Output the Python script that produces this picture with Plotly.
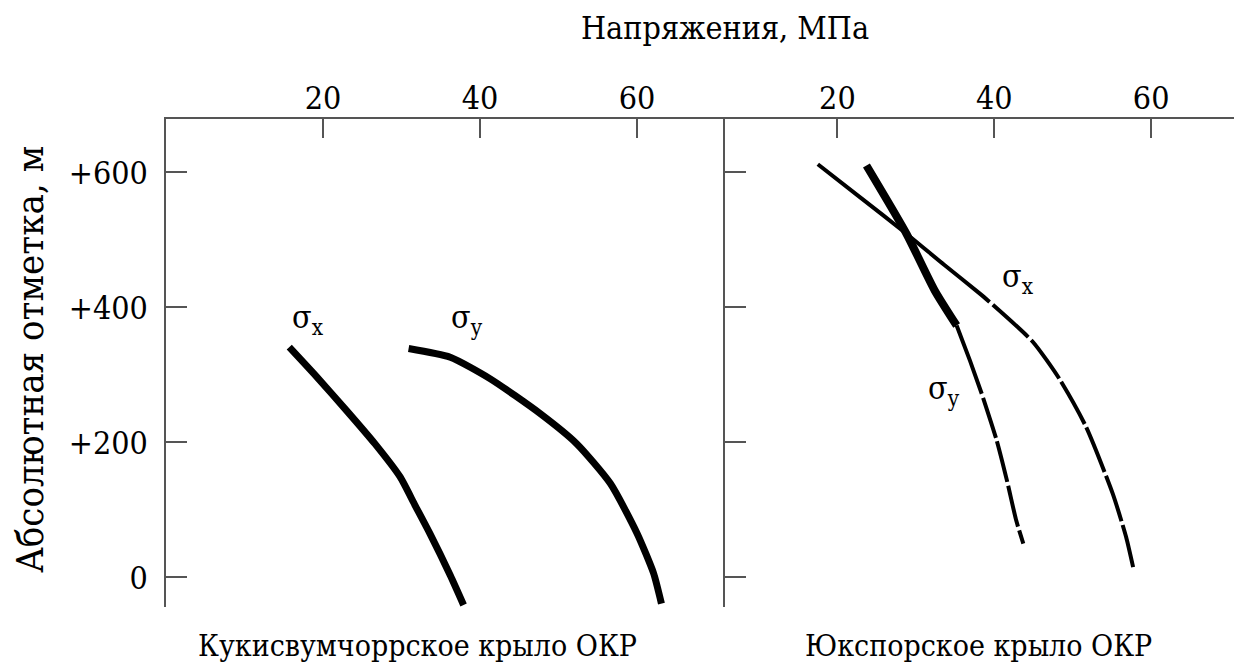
import plotly.graph_objects as go

# ---- data ----
# Left panel: Кукисвумчоррское крыло ОКР
left_sx_x = [15.7, 19.2, 23.0, 26.6, 29.8, 31.7, 33.6, 36.2, 37.9]
left_sx_y = [341, 297, 247, 198, 149, 107, 65, 3, -41]
left_sy_x = [30.9, 36.2, 41.3, 47.6, 52.3, 56.6, 60.0, 62.1, 63.1]
left_sy_y = [339, 326, 294, 243, 198, 139, 65, 6, -39]

# Right panel: Юкспорское крыло ОКР
right_sx_solid_x = [17.5, 22.9, 28.8, 33.6, 38.2, 39.4]
right_sx_solid_y = [612, 563, 509, 463, 420, 408]
right_sx_dash_x = [39.4, 44.9, 48.3, 51.7, 55.1, 56.8, 57.7]
right_sx_dash_y = [408, 349, 294, 223, 124, 60, 15]

right_sy_thick_x = [23.7, 28.8, 32.4, 35.2]
right_sy_thick_y = [610, 509, 425, 373]
right_sy_thin_x = [35.2, 36.9, 38.4]
right_sy_thin_y = [373, 321, 272]
right_sy_dash_x = [38.4, 40.3, 41.6, 42.8, 43.7]
right_sy_dash_y = [272, 203, 144, 84, 50]

x_ticks = [20, 40, 60]
y_ticks = [0, 200, 400, 600]
y_tick_text = ["0", "+200", "+400", "+600"]

FONT = "DejaVu Serif Condensed"
AX = "#555555"
INK = "black"

fig = go.Figure()

def add(x, y, w, xa, ya, dash="solid"):
    fig.add_trace(go.Scatter(x=x, y=y, mode="lines", xaxis=xa, yaxis=ya,
                             line=dict(color=INK, width=w, dash=dash, shape="spline", smoothing=0.6),
                             showlegend=False, hoverinfo="skip"))

add(left_sx_x, left_sx_y, 7, "x", "y")
add(left_sy_x, left_sy_y, 7, "x", "y")
add(right_sx_solid_x, right_sx_solid_y, 4, "x2", "y2")
add(right_sx_dash_x, right_sx_dash_y, 4, "x2", "y2", dash="0px,4px,48px,0px")
add(right_sy_thick_x, right_sy_thick_y, 8, "x2", "y2")
add(right_sy_thin_x, right_sy_thin_y, 4, "x2", "y2")
add(right_sy_dash_x, right_sy_dash_y, 4, "x2", "y2", dash="0px,4px,42px,0px")

split = 0.521
yr = [-44, 679]

xcommon = dict(side="top", showline=True, linecolor=AX, linewidth=1.5, ticks="inside",
               ticklen=19, tickwidth=1.5, tickcolor=AX, tickvals=x_ticks, showgrid=False,
               zeroline=False, tickfont=dict(family=FONT, size=32, color=INK),
               ticklabelstandoff=-5, automargin=False)
ycommon = dict(showline=True, linecolor=AX, linewidth=1.5, ticks="inside", ticklen=21,
               tickwidth=1.5, tickcolor=AX, tickvals=y_ticks, showgrid=False, zeroline=False,
               range=yr, automargin=False)

# page body has an 8px margin, so the figure is sized 8px smaller than the window
fig.update_layout(
    width=1234, height=664,
    margin=dict(l=158, r=3, t=111, b=65),
    paper_bgcolor="white", plot_bgcolor="white",
    font=dict(family=FONT, color=INK),
    xaxis=dict(domain=[0, split], range=[0, 71.2], anchor="y", **xcommon),
    xaxis2=dict(domain=[split, 1], range=[5.67, 71.2], anchor="y2", **xcommon),
    yaxis=dict(anchor="x", ticktext=y_tick_text, showticklabels=True, mirror=False,
               tickfont=dict(family=FONT, size=32, color=INK), ticklabelstandoff=10, **ycommon),
    yaxis2=dict(anchor="x2", showticklabels=False, mirror=True, **ycommon),
)

ann = []
def text(x, y, t, size=30, xref="paper", yref="paper", angle=0):
    ann.append(dict(x=x, y=y, xref=xref, yref=yref, text=t, showarrow=False,
                    textangle=angle, xanchor="center", yanchor="middle",
                    font=dict(family=FONT, size=size, color=INK)))

text(split, 1.1865, "Напряжения, МПа", size=32)
text(-0.1267, 0.506, "Абсолютная отметка, м", size=38, angle=-90)
text(0.234, -0.078, "Кукисвумчоррское крыло ОКР")
text(0.757, -0.078, "Юкспорское крыло ОКР")
text(18.1, 383, "σ<sub>x</sub>", size=32, xref="x", yref="y")
text(38.3, 383, "σ<sub>y</sub>", size=32, xref="x", yref="y")
text(43.0, 443, "σ<sub>x</sub>", size=32, xref="x2", yref="y2")
text(33.6, 278, "σ<sub>y</sub>", size=32, xref="x2", yref="y2")
fig.update_layout(annotations=ann)

fig.write_html("out.html")
